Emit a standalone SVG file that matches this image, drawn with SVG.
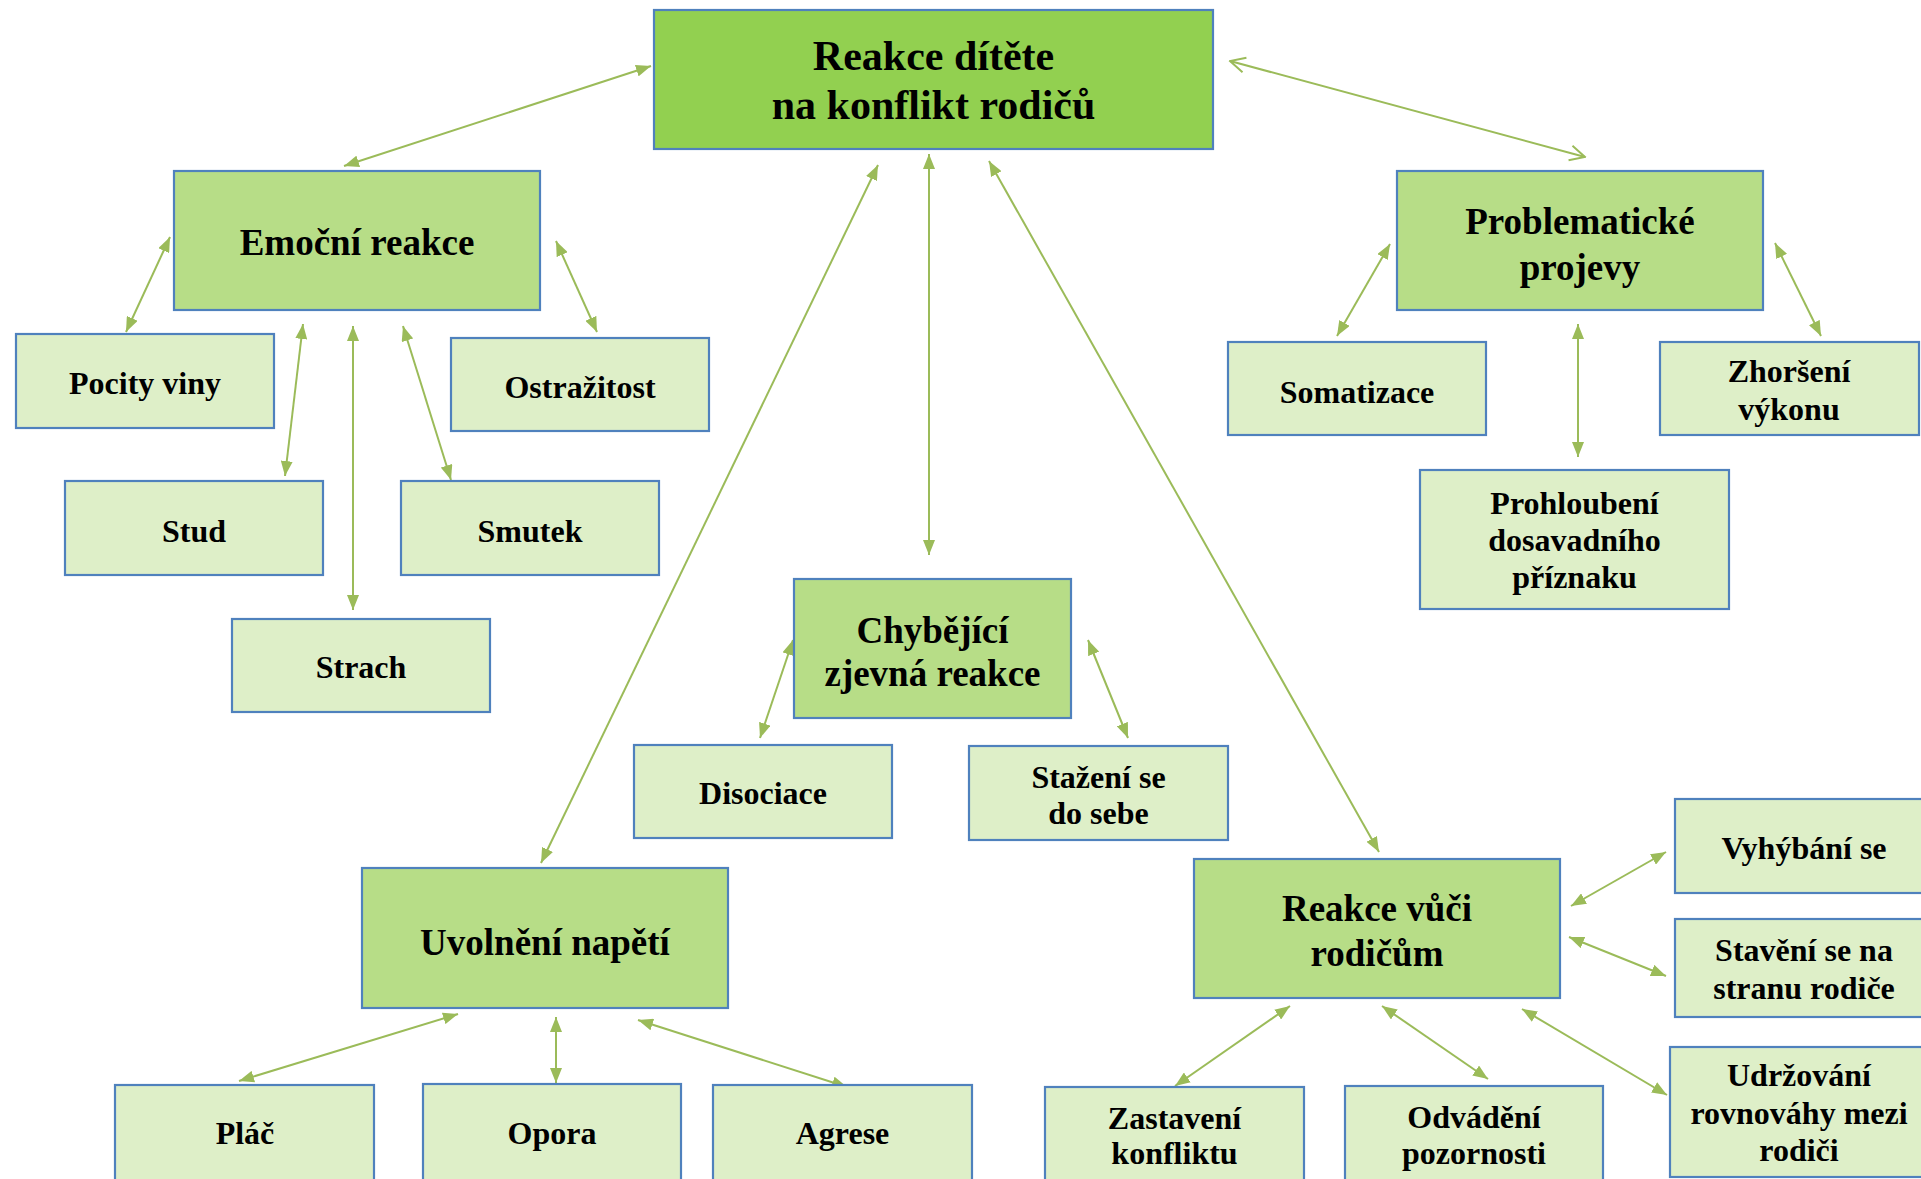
<svg xmlns="http://www.w3.org/2000/svg" width="1921" height="1179" viewBox="0 0 1921 1179">
  <style>
    .box rect { stroke: #4f81bd; stroke-width: 2.2; }
    .root rect { fill: #92d050; }
    .mid rect { fill: #b7dd87; }
    .leaf rect { fill: #deefc8; }
    text { font-family: "Liberation Serif", "Times New Roman", serif; font-weight: bold; fill: #000; text-anchor: middle; }
    .root text { font-size: 42px; }
    .mid text { font-size: 37px; }
    .leaf text { font-size: 32px; }
    .links line { stroke: #9bbb59; stroke-width: 2; fill: none; }
    .links .solid { marker-start: url(#tri); marker-end: url(#tri); }
    .links .open { marker-start: url(#vee); marker-end: url(#vee); }
  </style>
  <defs>
    <marker id="tri" viewBox="0 0 10 8" refX="10" refY="4" markerUnits="userSpaceOnUse" markerWidth="15" markerHeight="12" orient="auto-start-reverse">
      <path d="M0,0 L10,4 L0,8 Z" fill="#9bbb59"/>
    </marker>
    <marker id="vee" viewBox="-1 -1 12 12" refX="10" refY="5" markerUnits="userSpaceOnUse" markerWidth="18" markerHeight="18" orient="auto-start-reverse">
      <path d="M0,0 L10,5 L0,10" fill="none" stroke="#9bbb59" stroke-width="1.3"/>
    </marker>
  </defs>

  <rect width="1921" height="1179" fill="#ffffff"/>

  <!-- connectors -->
  <g id="connectors" class="links">
    <line class="solid" x1="651" y1="66" x2="344" y2="166"/>
    <line class="open" x1="1230" y1="61" x2="1585" y2="157"/>
    <line class="solid" x1="878" y1="165" x2="541" y2="863"/>
    <line class="solid" x1="929" y1="154" x2="929" y2="555"/>
    <line class="solid" x1="989" y1="161" x2="1379" y2="852"/>

    <line class="solid" x1="170" y1="237" x2="126" y2="332"/>
    <line class="solid" x1="556" y1="241" x2="597" y2="332"/>
    <line class="solid" x1="303" y1="324" x2="285" y2="476"/>
    <line class="solid" x1="353" y1="326" x2="353" y2="610"/>
    <line class="solid" x1="403" y1="326" x2="451" y2="480"/>

    <line class="solid" x1="1390" y1="244" x2="1337" y2="336"/>
    <line class="solid" x1="1775" y1="243" x2="1821" y2="336"/>
    <line class="solid" x1="1578" y1="324" x2="1578" y2="457"/>

    <line class="solid" x1="793" y1="640" x2="760" y2="738"/>
    <line class="solid" x1="1088" y1="640" x2="1128" y2="738"/>

    <line class="solid" x1="458" y1="1014" x2="239" y2="1081"/>
    <line class="solid" x1="556" y1="1017" x2="556" y2="1083"/>
    <line class="solid" x1="638" y1="1020" x2="847" y2="1087"/>

    <line class="solid" x1="1666" y1="852" x2="1571" y2="906"/>
    <line class="solid" x1="1569" y1="937" x2="1666" y2="976"/>
    <line class="solid" x1="1290" y1="1006" x2="1175" y2="1086"/>
    <line class="solid" x1="1382" y1="1006" x2="1488" y2="1079"/>
    <line class="solid" x1="1522" y1="1009" x2="1667" y2="1095"/>
  </g>

  <!-- root -->
  <g id="reakce-ditete" class="box root">
    <rect x="654" y="10" width="559" height="139"/>
    <text x="933.5" y="70">Reakce dítěte</text>
    <text x="933.5" y="119">na konflikt rodičů</text>
  </g>

  <!-- emotional reactions -->
  <g id="emocni-reakce" class="box mid">
    <rect x="174" y="171" width="366" height="139"/>
    <text x="357" y="255">Emoční reakce</text>
  </g>
  <g id="pocity-viny" class="box leaf">
    <rect x="16" y="334" width="258" height="94"/>
    <text x="145" y="394">Pocity viny</text>
  </g>
  <g id="ostrazitost" class="box leaf">
    <rect x="451" y="338" width="258" height="93"/>
    <text x="580" y="398">Ostražitost</text>
  </g>
  <g id="stud" class="box leaf">
    <rect x="65" y="481" width="258" height="94"/>
    <text x="194" y="542">Stud</text>
  </g>
  <g id="smutek" class="box leaf">
    <rect x="401" y="481" width="258" height="94"/>
    <text x="530" y="542">Smutek</text>
  </g>
  <g id="strach" class="box leaf">
    <rect x="232" y="619" width="258" height="93"/>
    <text x="361" y="678">Strach</text>
  </g>

  <!-- problematic expressions -->
  <g id="problematicke-projevy" class="box mid">
    <rect x="1397" y="171" width="366" height="139"/>
    <text x="1580" y="233.5">Problematické</text>
    <text x="1580" y="279.5">projevy</text>
  </g>
  <g id="somatizace" class="box leaf">
    <rect x="1228" y="342" width="258" height="93"/>
    <text x="1357" y="403">Somatizace</text>
  </g>
  <g id="zhorseni-vykonu" class="box leaf">
    <rect x="1660" y="342" width="259" height="93"/>
    <text x="1789" y="382">Zhoršení</text>
    <text x="1789" y="420">výkonu</text>
  </g>
  <g id="prohloubeni" class="box leaf">
    <rect x="1420" y="470" width="309" height="139"/>
    <text x="1574.5" y="514">Prohloubení</text>
    <text x="1574.5" y="551">dosavadního</text>
    <text x="1574.5" y="588">příznaku</text>
  </g>

  <!-- missing overt reaction -->
  <g id="chybejici-reakce" class="box mid">
    <rect x="794" y="579" width="277" height="139"/>
    <text x="932.5" y="642.5">Chybějící</text>
    <text x="932.5" y="685.5">zjevná reakce</text>
  </g>
  <g id="disociace" class="box leaf">
    <rect x="634" y="745" width="258" height="93"/>
    <text x="763" y="804">Disociace</text>
  </g>
  <g id="stazeni" class="box leaf">
    <rect x="969" y="746" width="259" height="94"/>
    <text x="1098.5" y="788">Stažení se</text>
    <text x="1098.5" y="824">do sebe</text>
  </g>

  <!-- tension release -->
  <g id="uvolneni-napeti" class="box mid">
    <rect x="362" y="868" width="366" height="140"/>
    <text x="545" y="954.5">Uvolnění napětí</text>
  </g>
  <g id="plac" class="box leaf">
    <rect x="115" y="1085" width="259" height="100"/>
    <text x="245" y="1144">Pláč</text>
  </g>
  <g id="opora" class="box leaf">
    <rect x="423" y="1084" width="258" height="100"/>
    <text x="552" y="1144">Opora</text>
  </g>
  <g id="agrese" class="box leaf">
    <rect x="713" y="1085" width="259" height="100"/>
    <text x="842.5" y="1144">Agrese</text>
  </g>

  <!-- reactions towards parents -->
  <g id="reakce-vuci-rodicum" class="box mid">
    <rect x="1194" y="859" width="366" height="139"/>
    <text x="1377" y="920.5">Reakce vůči</text>
    <text x="1377" y="965.5">rodičům</text>
  </g>
  <g id="vyhybani" class="box leaf">
    <rect x="1675" y="799" width="258" height="94"/>
    <text x="1804" y="859">Vyhýbání se</text>
  </g>
  <g id="staveni" class="box leaf">
    <rect x="1675" y="919" width="258" height="98"/>
    <text x="1804" y="961">Stavění se na</text>
    <text x="1804" y="999">stranu rodiče</text>
  </g>
  <g id="udrzovani" class="box leaf">
    <rect x="1670" y="1047" width="258" height="130"/>
    <text x="1799" y="1086">Udržování</text>
    <text x="1799" y="1124">rovnováhy mezi</text>
    <text x="1799" y="1161">rodiči</text>
  </g>
  <g id="zastaveni" class="box leaf">
    <rect x="1045" y="1087" width="259" height="100"/>
    <text x="1174.5" y="1129">Zastavení</text>
    <text x="1174.5" y="1164">konfliktu</text>
  </g>
  <g id="odvadeni" class="box leaf">
    <rect x="1345" y="1086" width="258" height="100"/>
    <text x="1474" y="1128">Odvádění</text>
    <text x="1474" y="1164">pozornosti</text>
  </g>
</svg>
